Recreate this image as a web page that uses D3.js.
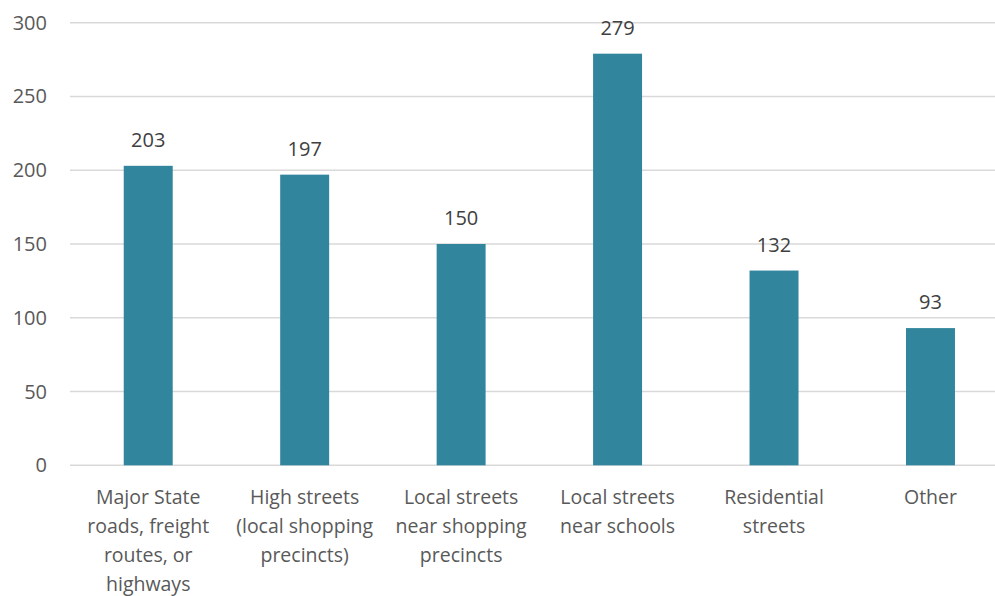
<!DOCTYPE html>
<html>
<head>
<meta charset="utf-8">
<script src="https://cdnjs.cloudflare.com/ajax/libs/d3/7.8.5/d3.min.js"></script>
<style>
  body { margin: 0; background: #fff; }
  svg { display: block; font-family: "Open Sans", sans-serif; }
</style>
</head>
<body>
<div id="chart"></div>
<script>
// data
var categories = [
  ["Major State", "roads, freight", "routes, or", "highways"],
  ["High streets", "(local shopping", "precincts)"],
  ["Local streets", "near shopping", "precincts"],
  ["Local streets", "near schools"],
  ["Residential", "streets"],
  ["Other"]
];
var values = [203, 197, 150, 279, 132, 93];
var yTicks = [0, 50, 100, 150, 200, 250, 300];

var W = 995, H = 596;
var plotLeft = 70, plotRight = 1008.7, plotTop = 22.7, plotBottom = 465.3;

var svg = d3.select("#chart").append("svg")
  .attr("width", W).attr("height", H);

var x = d3.scaleBand()
  .domain(d3.range(values.length))
  .range([plotLeft, plotRight])
  .paddingInner(0.687)
  .paddingOuter(0.3435);

var y = d3.scaleLinear().domain([0, 300]).range([plotBottom, plotTop]);

// gridlines
svg.append("g").selectAll("line")
  .data(yTicks).enter().append("line")
  .attr("x1", plotLeft).attr("x2", W)
  .attr("y1", d => y(d)).attr("y2", d => y(d))
  .attr("stroke", "#d9d9d9").attr("stroke-width", 1.5);

// y labels
svg.append("g").selectAll("text")
  .data(yTicks).enter().append("text")
  .attr("x", 47).attr("y", d => y(d))
  .attr("dy", "0.35em")
  .attr("text-anchor", "end")
  .attr("fill", "#595959")
  .style("font-size", "20px")
  .text(d => d);

// bars
svg.append("g").selectAll("rect")
  .data(values).enter().append("rect")
  .attr("x", (d, i) => x(i))
  .attr("width", x.bandwidth())
  .attr("y", d => y(d))
  .attr("height", d => y(0) - y(d))
  .attr("fill", "#31859c");

// value labels
svg.append("g").selectAll("text")
  .data(values).enter().append("text")
  .attr("x", (d, i) => x(i) + x.bandwidth() / 2)
  .attr("y", d => y(d) - 19)
  .attr("text-anchor", "middle")
  .attr("fill", "#404040")
  .style("font-size", "20px")
  .text(d => d);

// category labels
var cat = svg.append("g").selectAll("text")
  .data(categories).enter().append("text")
  .attr("text-anchor", "middle")
  .attr("fill", "#595959")
  .style("font-size", "19.5px");
cat.each(function(lines, i) {
  var t = d3.select(this);
  lines.forEach(function(s, j) {
    t.append("tspan")
      .attr("x", x(i) + x.bandwidth() / 2)
      .attr("y", 503.5 + j * 29.2)
      .text(s);
  });
});
</script>
</body>
</html>
